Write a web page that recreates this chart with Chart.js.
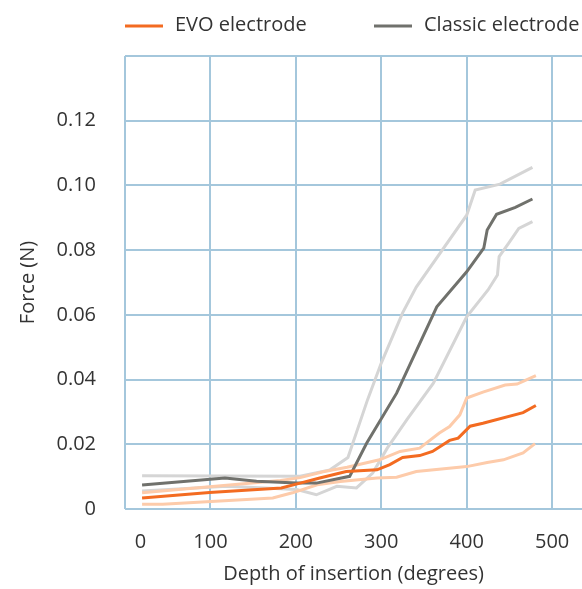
<!DOCTYPE html>
<html>
<head>
<meta charset="utf-8">
<script src="https://cdn.jsdelivr.net/npm/chart.js@4"></script>
<style>
  html, body { margin: 0; padding: 0; background: #fff; }
  #wrap { width: 582px; height: 589px; }
</style>
</head>
<body>
<div id="wrap"><canvas id="chart"></canvas></div>
<script>
// depth of insertion (degrees) and force (N)
const evoMeanDeg = [20, 99, 183, 205, 228, 259, 295, 310, 325, 345, 360, 380, 390, 404, 419, 466, 481];
const evoMeanForce = [0.0034, 0.0051, 0.0065, 0.0080, 0.0096, 0.0116, 0.0121, 0.0137, 0.0159, 0.0165, 0.0178, 0.0212, 0.0219, 0.0256, 0.0265, 0.0298, 0.0320];
const evoUpperDeg = [20, 99, 182, 205, 232, 260, 298, 322, 345, 368, 380, 392, 400, 419, 445, 459, 481];
const evoUpperForce = [0.0050, 0.0069, 0.0088, 0.0097, 0.0115, 0.0129, 0.0152, 0.0178, 0.0188, 0.0235, 0.0255, 0.0291, 0.0343, 0.0361, 0.0383, 0.0386, 0.0412];
const evoLowerDeg = [20, 44, 173, 196, 225, 252, 295, 318, 341, 400, 424, 443, 466, 480];
const evoLowerForce = [0.0015, 0.0015, 0.0034, 0.0050, 0.0075, 0.0085, 0.0096, 0.0098, 0.0116, 0.0131, 0.0144, 0.0152, 0.0173, 0.0202];

const classicMeanDeg = [20, 117, 154, 201, 224, 263, 283, 318, 365, 400, 420, 424, 435, 457, 477];
const classicMeanForce = [0.0074, 0.0096, 0.0086, 0.0080, 0.0080, 0.0101, 0.0204, 0.0358, 0.0625, 0.0733, 0.0806, 0.0862, 0.0911, 0.0932, 0.0958];
const classicUpperDeg = [20, 205, 240, 261, 284, 300, 325, 341, 400, 410, 439, 477];
const classicUpperForce = [0.0103, 0.0101, 0.0121, 0.0159, 0.0338, 0.0451, 0.0606, 0.0686, 0.0908, 0.0986, 0.1004, 0.1056];
const classicLowerDeg = [20, 119, 201, 224, 248, 271, 290, 307, 330, 361, 400, 425, 436, 438, 449, 461, 477];
const classicLowerForce = [0.0056, 0.0070, 0.0060, 0.0044, 0.0070, 0.0065, 0.0111, 0.0188, 0.0276, 0.0389, 0.0594, 0.0677, 0.0723, 0.0780, 0.0821, 0.0867, 0.0888];

const xTickValues = [0, 100, 200, 300, 400, 500];
const yTickValues = [0, 0.02, 0.04, 0.06, 0.08, 0.10, 0.12, 0.14];

const FONT = 'Open Sans';
const TEXT = '#333';
const GRID = '#a4c7dc';

const pts = (xs, ys) => xs.map((x, i) => ({ x, y: ys[i] }));
const line = (label, xs, ys, color) => ({
  label, data: pts(xs, ys), borderColor: color, backgroundColor: color,
  borderWidth: 3, pointRadius: 0, tension: 0, fill: false,
});

// legend drawn by hand so the two items sit where the original has them
const legendPlugin = {
  id: 'legendRow',
  afterDraw(chart) {
    const { ctx } = chart;
    const items = [
      { ds: chart.data.datasets[0], x: 125 },
      { ds: chart.data.datasets[1], x: 374 },
    ];
    ctx.save();
    ctx.font = `20px "${FONT}"`;
    ctx.textBaseline = 'middle';
    ctx.fillStyle = TEXT;
    items.forEach(it => {
      ctx.strokeStyle = it.ds.borderColor;
      ctx.lineWidth = 3;
      ctx.beginPath();
      ctx.moveTo(it.x, 26);
      ctx.lineTo(it.x + 38, 26);
      ctx.stroke();
      ctx.fillText(it.ds.label, it.x + 50, 25);
    });
    ctx.restore();
  },
};

new Chart(document.getElementById('chart'), {
  type: 'line',
  data: {
    datasets: [
      line('EVO electrode', evoMeanDeg, evoMeanForce, '#f36b21'),
      line('Classic electrode', classicMeanDeg, classicMeanForce, '#70716c'),
      line('EVO upper', evoUpperDeg, evoUpperForce, '#fdcbaa'),
      line('EVO lower', evoLowerDeg, evoLowerForce, '#fdcbaa'),
      line('Classic upper', classicUpperDeg, classicUpperForce, '#d5d5d5'),
      line('Classic lower', classicLowerDeg, classicLowerForce, '#d5d5d5'),
    ],
  },
  options: {
    responsive: true,
    maintainAspectRatio: false,
    animation: false,
    layout: { padding: { top: 56, right: 0, bottom: 0, left: 0 } },
    plugins: { legend: { display: false }, tooltip: { enabled: false } },
    scales: {
      x: {
        type: 'linear', position: 'bottom', min: 0, max: 535,
        afterBuildTicks: s => { s.ticks = xTickValues.map(v => ({ value: v })); },
        afterFit: s => { s.height = 0; },
        ticks: { display: false },
        grid: { color: GRID, lineWidth: 2, drawTicks: false },
        border: { display: false },
      },
      xl: {
        type: 'linear', position: 'bottom', min: 0, max: 535,
        // the "0" label sits a little right of the axis in the original
        afterBuildTicks: s => { s.ticks = xTickValues.map(v => ({ value: v === 0 ? 18 : v })); },
        afterFit: s => { s.height = 80; },
        ticks: {
          padding: 0, color: TEXT, font: { family: FONT, size: 20 },
          callback: (v, i) => String(xTickValues[i]),
        },
        grid: { drawOnChartArea: false, drawTicks: true, tickLength: 21, tickColor: 'rgba(0,0,0,0)' },
        border: { display: false },
        title: {
          display: true, text: 'Depth of insertion (degrees)', color: TEXT,
          font: { family: FONT, size: 20 }, padding: { top: 0, bottom: 3 },
        },
      },
      y: {
        type: 'linear', min: 0, max: 0.14,
        afterBuildTicks: s => { s.ticks = yTickValues.map(v => ({ value: v })); },
        afterFit: s => { s.width = 125; },
        ticks: {
          padding: 29, color: TEXT, font: { family: FONT, size: 20 },
          callback: (v, i) => (i === yTickValues.length - 1 ? '' : (v === 0 ? '0' : v.toFixed(2))),
        },
        grid: { color: GRID, lineWidth: 2, drawTicks: false },
        border: { display: false },
        title: {
          display: true, text: 'Force (N)', color: TEXT,
          font: { family: FONT, size: 20 }, padding: { top: 16, bottom: 0 },
        },
      },
    },
  },
  plugins: [legendPlugin],
});
</script>
</body>
</html>
